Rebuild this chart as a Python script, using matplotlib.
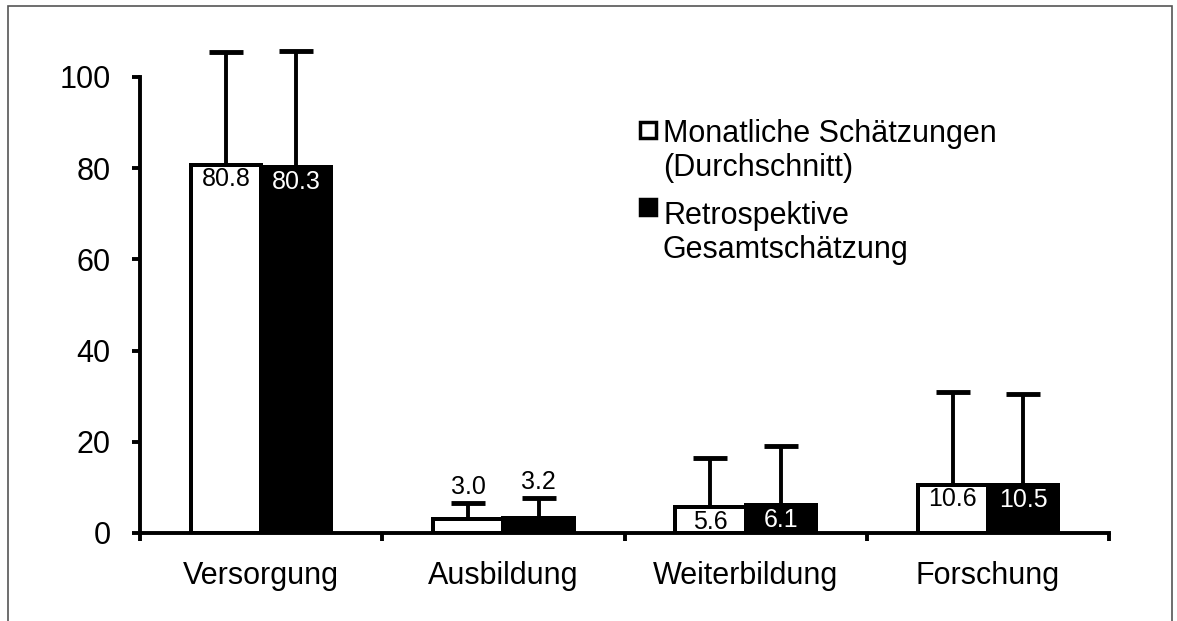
import numpy as np
import matplotlib.pyplot as plt
from matplotlib.patches import Rectangle

plt.rcParams['font.family'] = ['Liberation Sans', 'DejaVu Sans']

# Data
categories = ["Versorgung", "Ausbildung", "Weiterbildung", "Forschung"]
series_names = ["Monatliche Schätzungen\n(Durchschnitt)", "Retrospektive\nGesamtschätzung"]
monthly = [80.8, 3.0, 5.6, 10.6]
retro = [80.3, 3.2, 6.1, 10.5]
monthly_sd = [24.6, 3.5, 10.8, 20.4]
retro_sd = [25.5, 4.5, 12.9, 20.0]
yticks = [0, 20, 40, 60, 80, 100]

W, H = 1177, 621


def px(x, y):
    # figure pixel (from top-left) -> figure fraction
    return x / W, 1 - y / H


fig = plt.figure(figsize=(W / 100, H / 100), dpi=100)
ax = fig.add_axes([140 / W, 1 - 533 / H, 969 / W, 456 / H])

x = np.arange(len(categories))
bw = 0.29
lw = 2.8

series = [
    (monthly, monthly_sd, "white", "black", -bw / 2),
    (retro, retro_sd, "black", "white", bw / 2),
]

for vals, sd, face, txtcol, off in series:
    bars = ax.bar(x + off, vals, bw, color=face, edgecolor="black", linewidth=lw, zorder=2)
    for rect, v, s in zip(bars, vals, sd):
        cx = rect.get_x() + rect.get_width() / 2
        if v < 5:
            # too small: label above the error bar
            ax.annotate(f"{v:.1f}", (cx, v + s), xytext=(0, 6.5), textcoords="offset points",
                        ha="center", va="baseline", fontsize=18, color="black",
                        annotation_clip=False, zorder=6)
        else:
            t = ax.annotate(f"{v:.1f}", (cx, v), xytext=(0, -2), textcoords="offset points",
                            ha="center", va="top", fontsize=18, color=txtcol, zorder=3)
            t.set_clip_path(rect)
    # redraw the outlines over the labels
    ax.bar(x + off, vals, bw, fill=False, edgecolor="black", linewidth=lw, zorder=4)
    eb = ax.errorbar(x + off, vals, yerr=[np.zeros(len(vals)), sd], fmt="none",
                     ecolor="black", elinewidth=lw, capsize=12, capthick=3.5, zorder=5)
    for line in eb.lines[1]:
        line.set_clip_on(False)
        if np.allclose(line.get_ydata(), vals):
            line.set_visible(False)
    for col in eb.lines[2]:
        col.set_clip_on(False)

ax.set_xlim(-0.5, len(categories) - 0.5)
ax.set_ylim(0, 100)
ax.set_yticks(yticks)
ax.set_xticks(x)
ax.set_xticklabels(categories)
ax.set_xticks(np.arange(-0.5, len(categories), 1), minor=True)

for side in ["top", "right"]:
    ax.spines[side].set_visible(False)
for side in ["left", "bottom"]:
    ax.spines[side].set_linewidth(lw)

ax.tick_params(axis="y", length=6, width=lw, labelsize=22, pad=15)
ax.tick_params(axis="x", which="major", length=0, labelsize=22, pad=20)
ax.tick_params(axis="x", which="minor", length=6, width=lw)

# legend drawn by hand: marker sits next to the first line of each entry
faces = ["white", "black"]
marker_y = [130, 207]
text_y = [151, 233]
for face, my, ty, name in zip(faces, marker_y, text_y, series_names):
    mx0, my0 = px(640, my + 8)
    fig.patches.append(Rectangle((mx0, my0), 16 / W, 16 / H, transform=fig.transFigure,
                                 facecolor=face, edgecolor="black", linewidth=2.5))
    tx, tyf = px(663, ty)
    fig.text(tx, tyf, name, ha="left", va="center", fontsize=22, linespacing=1.2)

# outer frame of the chart area
bx, by = px(8, 640)
fig.patches.append(Rectangle((bx, by), (1172 - 8) / W, (640 - 6) / H, transform=fig.transFigure,
                             fill=False, edgecolor="#555555", linewidth=1.2))

fig.savefig("out.png", dpi=100)
